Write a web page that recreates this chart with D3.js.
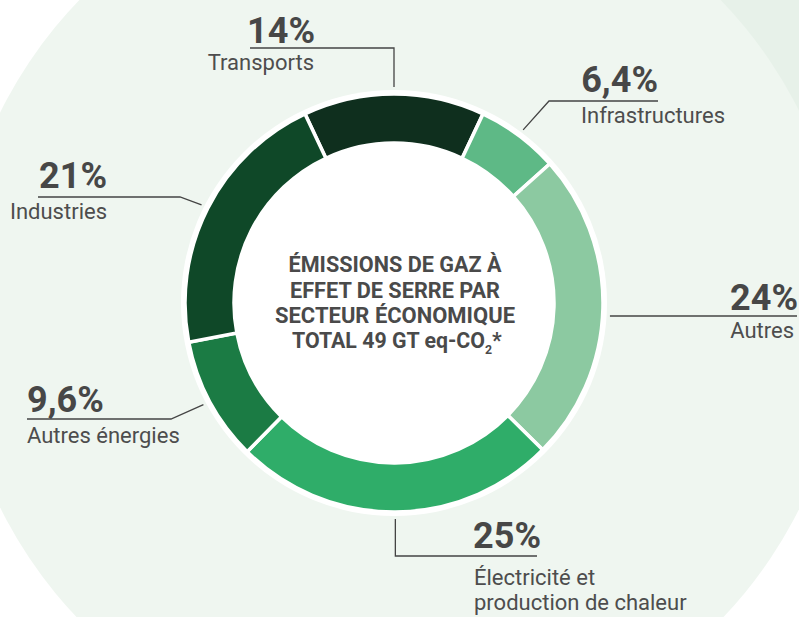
<!DOCTYPE html>
<html lang="fr">
<head>
  <meta charset="utf-8">
  <title>Émissions de GES par secteur</title>
  <script src="https://d3js.org/d3.v7.min.js"></script>
  <style>
    body { margin: 0; background: #fff; }
    svg { display: block; font-family: Roboto, "Open Sans", sans-serif; }
  </style>
</head>
<body>
<script>
// data
var sectors = ["Transports", "Infrastructures", "Autres", "Électricité et|production de chaleur", "Autres énergies", "Industries"];
var shares = [14, 6.4, 24, 25, 9.6, 21];
var shareLabels = ["14%", "6,4%", "24%", "25%", "9,6%", "21%"];
var colors = ["#0f2f1e", "#5eb986", "#8cc9a1", "#2fad69", "#1b7b44", "#0f4828"];
var titleLines = ["ÉMISSIONS DE GAZ À", "EFFET DE SERRE PAR", "SECTEUR ÉCONOMIQUE"];

var w = 799, h = 617;
var cx = 394, cy = 303;
var rOuter = 209, rInner = 160;

// where each label sits (mode: v = vertical then horizontal, d = diagonal then horizontal, h = horizontal)
var layout = [
  {mode: "v", ey: 48, endX: 250, px: 315, pa: "end", py: 43, nx: 314, na: "end", ny: 70},
  {mode: "d", ex: 549, ey: 101, endX: 658, px: 658, pa: "end", py: 92, nx: 581, na: "start", ny: 123},
  {mode: "h", ey: 316, endX: 797, px: 798, pa: "end", py: 310, nx: 794, na: "end", ny: 338},
  {mode: "v", ey: 556, endX: 537, px: 541, pa: "end", py: 548, nx: 474, na: "start", ny: 585},
  {mode: "d", ex: 171, ey: 419, endX: 27, px: 27, pa: "start", py: 412, nx: 27, na: "start", ny: 443},
  {mode: "d", ex: 180, ey: 197, endX: 38, px: 107, pa: "end", py: 188, nx: 107, na: "end", ny: 219}
];

var svg = d3.select("body").append("svg")
  .attr("width", w)
  .attr("height", h);

// background
svg.append("rect")
  .attr("x", 400).attr("y", 0)
  .attr("width", 399).attr("height", 300)
  .attr("fill", "#e7f1e9");
svg.append("circle")
  .attr("cx", 400).attr("cy", 310).attr("r", 446)
  .attr("fill", "#eff6f0");

var g = svg.append("g").attr("transform", "translate(" + cx + "," + cy + ")");

// white ring behind the donut
g.append("circle").attr("r", rOuter + 4).attr("fill", "#fff");

var offset = shares[0] / 100 * Math.PI;
var pie = d3.pie().sort(null)
  .startAngle(-offset)
  .endAngle(2 * Math.PI - offset);

var arc = d3.arc().innerRadius(rInner).outerRadius(rOuter);
var lineArc = d3.arc().innerRadius(216).outerRadius(216);

var arcs = pie(shares);

g.selectAll("path.slice")
  .data(arcs)
  .enter()
  .append("path")
  .attr("class", "slice")
  .attr("d", arc)
  .attr("fill", function(d, i) { return colors[i]; })
  .attr("stroke", "#fff")
  .attr("stroke-width", 3.5);

// leader lines
svg.selectAll("path.leader")
  .data(arcs)
  .enter()
  .append("path")
  .attr("class", "leader")
  .attr("fill", "none")
  .attr("stroke", "#444")
  .attr("stroke-width", 1.3)
  .attr("d", function(d, i) {
    var L = layout[i];
    var c = lineArc.centroid(d);
    var sx = c[0] + cx, sy = c[1] + cy;
    var pts;
    if (L.mode == "v") pts = [[sx, sy], [sx, L.ey], [L.endX, L.ey]];
    else if (L.mode == "d") pts = [[sx, sy], [L.ex, L.ey], [L.endX, L.ey]];
    else pts = [[sx, L.ey], [L.endX, L.ey]];
    return d3.line()(pts);
  });

// percentages
svg.selectAll("text.pct")
  .data(shareLabels)
  .enter()
  .append("text")
  .attr("class", "pct")
  .attr("x", function(d, i) { return layout[i].px; })
  .attr("y", function(d, i) { return layout[i].py; })
  .attr("text-anchor", function(d, i) { return layout[i].pa; })
  .attr("font-size", 36)
  .attr("font-weight", 700)
  .attr("fill", "#474747")
  .text(function(d) { return d; });

// sector names
var names = svg.selectAll("text.name")
  .data(sectors)
  .enter()
  .append("text")
  .attr("class", "name")
  .attr("text-anchor", function(d, i) { return layout[i].na; })
  .attr("font-size", 22)
  .attr("fill", "#4d4d4d");

names.each(function(d, i) {
  var t = d3.select(this);
  d.split("|").forEach(function(part, k) {
    t.append("tspan")
      .attr("x", layout[i].nx)
      .attr("y", layout[i].ny + k * 25)
      .text(part);
  });
});

// centre title
var title = svg.append("g")
  .attr("font-size", 22.5)
  .attr("font-weight", 700)
  .attr("fill", "#4a4a4a");

var widths = [213, 210, 240];
titleLines.forEach(function(s, i) {
  title.append("text")
    .attr("x", cx + 1)
    .attr("y", 272 + i * 25.5)
    .attr("text-anchor", "middle")
    .attr("textLength", widths[i])
    .attr("lengthAdjust", "spacingAndGlyphs")
    .text(s);
});

// last line with subscript, squeezed to width with a scale
var last = title.append("text").attr("x", 0).attr("y", 0);
last.append("tspan").text("TOTAL 49 GT eq-CO");
last.append("tspan").attr("font-size", 13).attr("dy", 6).text("2");
last.append("tspan").attr("dy", -6).text("*");
var lw = last.node().getComputedTextLength();
last.attr("transform", "translate(292,348) scale(" + (210 / lw) + ",1)");
</script>
</body>
</html>
